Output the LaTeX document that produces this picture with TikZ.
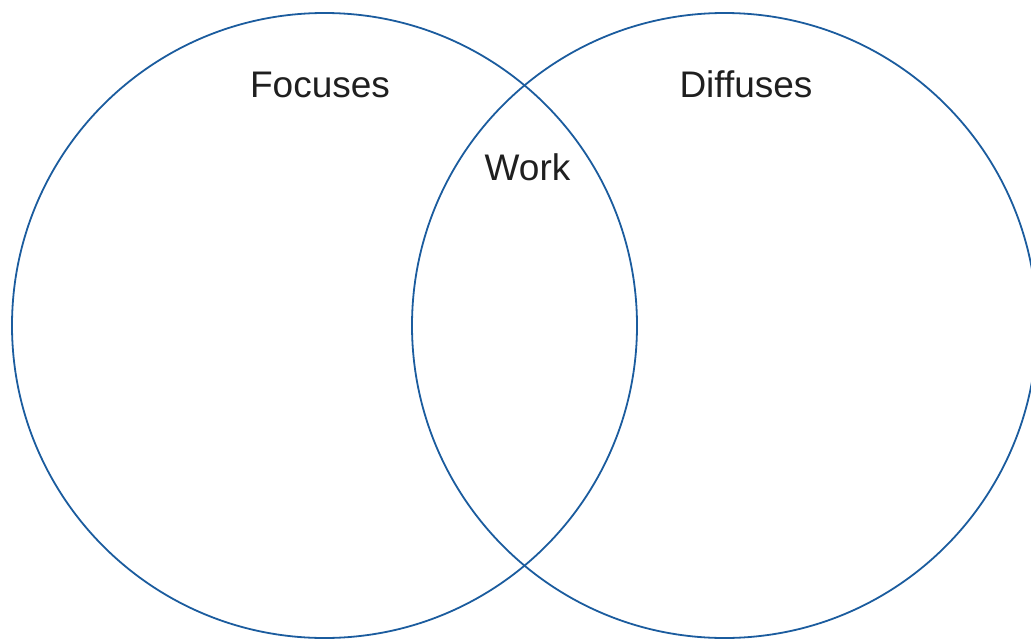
\documentclass[tikz,border=0pt]{standalone}
\usepackage{fontspec}
\setmainfont{Liberation Sans}
\definecolor{vennblue}{HTML}{1B5C9E}
\tikzset{
  venn/.style={draw=vennblue, line width=1.8pt},
  lbl/.style={font=\fontsize{37}{44}\selectfont, text=black!88, anchor=base, inner sep=0pt}
}
\begin{document}
\begin{tikzpicture}[x=1pt,y=-1pt]
\useasboundingbox (0,0) rectangle (1031,640);
\clip (0,0) rectangle (1031,640);
\draw[venn] (324.5,325.5) circle[radius=312.5];
\draw[venn] (724.5,325.5) circle[radius=312.5];
\node[lbl] (focuses) at (320,97) {Focuses};
\node[lbl] (diffuses) at (746,97) {Diffuses};
\node[lbl] (work) at (527.5,180) {Work};
\end{tikzpicture}
\end{document}
